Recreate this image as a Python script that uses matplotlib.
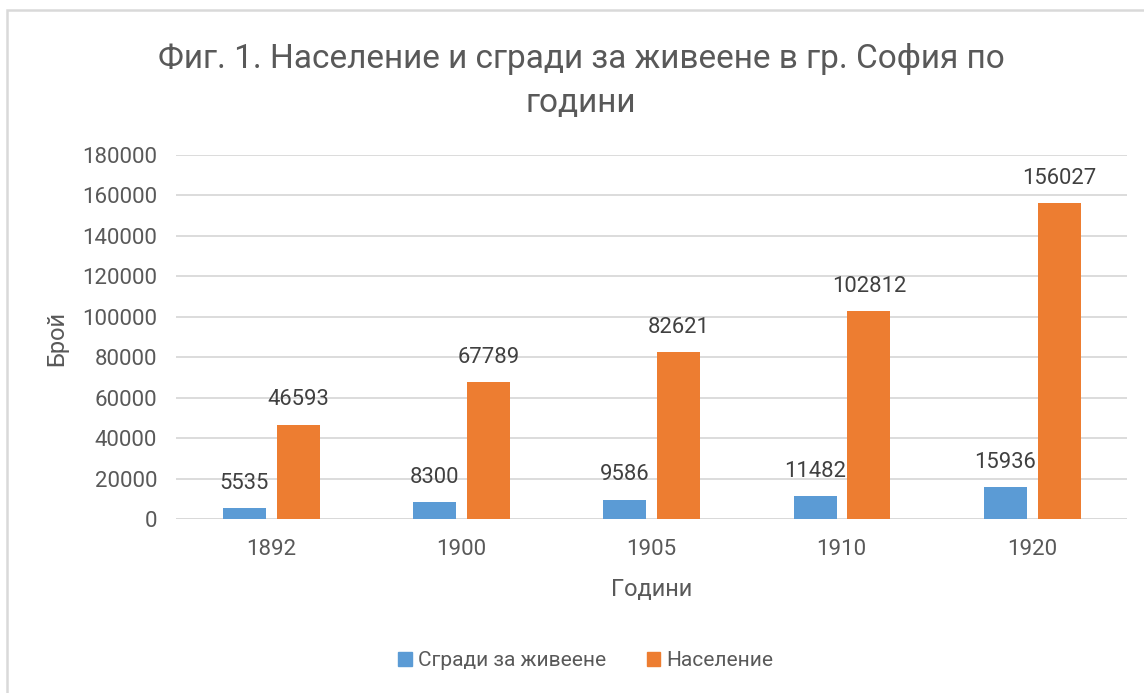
import matplotlib.pyplot as plt
import matplotlib.patches as patches
import numpy as np

# ---------- data ----------
years = ["1892", "1900", "1905", "1910", "1920"]
buildings = [5535, 8300, 9586, 11482, 15936]
population = [46593, 67789, 82621, 102812, 156027]

series_names = ["Сгради за живеене", "Население"]
title = "Фиг. 1. Население и сгради за живеене в гр. София по\nгодини"

# ---------- style ----------
plt.rcParams["font.family"] = ["Roboto", "DejaVu Sans"]
gray = "#595959"
grid = "#D9D9D9"
blue = "#5B9BD5"
orange = "#ED7D31"

fig = plt.figure(figsize=(11.44, 6.93), dpi=100)
ax = fig.add_axes([0.1538, 0.2507, 0.8313, 0.5257])

x = np.arange(len(years))
w = 0.226
b1 = ax.bar(x - 0.14, buildings, w, color=blue, zorder=3)
b2 = ax.bar(x + 0.143, population, w, color=orange, zorder=3)

for bars in (b1, b2):
    for r in bars:
        ax.annotate(f"{int(r.get_height())}",
                    (r.get_x() + r.get_width() / 2, r.get_height()),
                    xytext=(0, 18), textcoords="offset points",
                    ha="center", va="center", fontsize=15.8, color="#404040")

ax.set_xlim(-0.5, len(years) - 0.5)
ax.set_ylim(0, 180000)
ax.set_yticks(np.arange(0, 180001, 20000))
ax.set_xticks(x, years)
ax.yaxis.grid(True, color=grid, lw=1.3, zorder=0)
ax.tick_params(length=0, labelsize=16, labelcolor=gray)
ax.tick_params(axis="y", pad=13.5)
ax.tick_params(axis="x", pad=14)
for s in ax.spines.values():
    s.set_visible(False)
ax.axhline(0, color=grid, lw=1.3, zorder=2)

fig.text(581 / 1144, 1 - 81 / 693, title, ha="center", va="center",
         fontsize=24, color=gray, linespacing=1.45)
fig.text(57 / 1144, 1 - 338 / 693, "Брой", rotation=90, ha="center",
         va="center", fontsize=17, color=gray)
fig.text(652 / 1144, 1 - 590 / 693, "Години", ha="center", va="center",
         fontsize=17, color=gray)

handles = [patches.Patch(color=blue), patches.Patch(color=orange)]
fig.legend(handles, series_names, loc="center", ncol=2,
           bbox_to_anchor=(586 / 1144, 1 - 661 / 693), frameon=False,
           fontsize=15, labelcolor=gray, handlelength=0.65, handleheight=0.65,
           handletextpad=0.3, columnspacing=1.95)

# chart border (only top and left visible in the crop)
fig.add_artist(patches.Rectangle((7 / 1144, -0.1), 1.2, 1 - 10 / 693 + 0.1,
                                 transform=fig.transFigure, fill=False,
                                 ec=grid, lw=1.8))

fig.savefig("out.png", dpi=100)
